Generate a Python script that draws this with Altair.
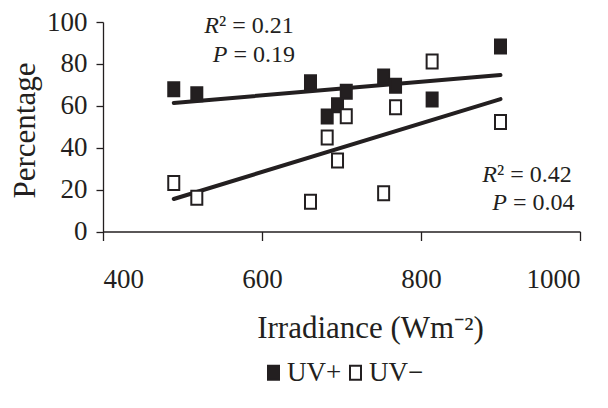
import altair as alt
import pandas as pd

# ---- data ----
irradiance = [489, 518, 661, 682, 695, 706, 753, 768, 814, 900]
uv_plus = [67.9, 65.5, 71.3, 54.9, 60.3, 66.7, 74.0, 69.6, 63.0, 88.3]
uv_minus = [23.2, 16.1, 14.2, 44.9, 33.9, 55.0, 18.3, 59.3, 81.2, 52.3]
series_names = ["UV+", "UV\u2212"]
x_ticks = [400, 600, 800, 1000]
y_ticks = [0, 20, 40, 60, 80, 100]

# annotation texts
ann_italic = ["R", "P", "R", "P"]
ann_rest = ["\u00b2 = 0.21", "= 0.19", "\u00b2 = 0.42", "= 0.04"]
# layout positions (pixels inside plot area)
ann_x_italic = [116.0, 124.5, 394.0, 404.0]
ann_x_rest = [116.0, 130.5, 394.0, 410.0]
ann_y = [11, 40, 160, 188]

FONT = "Liberation Serif"
INK = "#231f20"
RECT = "M-0.786,-1H0.786V1H-0.786Z"

rows = []
for name, vals in zip(series_names, [uv_plus, uv_minus]):
    for xv, yv in zip(irradiance, vals):
        rows.append({"irr": xv, "pct": yv, "series": name})
df = pd.DataFrame(rows)

xscale = alt.Scale(domain=[400, 1000], nice=False)
yscale = alt.Scale(domain=[0, 100], nice=False)

base = alt.Chart(df)

points = base.mark_point(
    shape=RECT, size=196, filled=True, stroke=INK, strokeWidth=2, opacity=1
).encode(
    x=alt.X("irr:Q", scale=xscale,
            axis=alt.Axis(values=x_ticks, format="d", title="Irradiance (Wm\u207b\u00b2)",
                          titleX=267, titleY=106, titleBaseline="alphabetic",
                          titleAlign="center", titleAnchor="start",
                          tickSize=9, labelPadding=26)),
    y=alt.Y("pct:Q", scale=yscale,
            axis=alt.Axis(values=y_ticks, title="Percentage",
                          titleX=-78, titleY=108, titleAngle=-90,
                          titleBaseline="middle", titleAlign="center",
                          titleAnchor="start",
                          tickSize=7, labelPadding=9)),
    fill=alt.Fill("series:N",
                  scale=alt.Scale(domain=series_names, range=[INK, "white"]),
                  legend=alt.Legend(title=None, orient="none", direction="horizontal",
                                    legendX=157, legendY=337,
                                    symbolType=RECT, symbolSize=196,
                                    symbolStrokeColor=INK, symbolStrokeWidth=2,
                                    labelFont=FONT, labelFontSize=27,
                                    labelColor=INK, labelOffset=0,
                                    columnPadding=0, symbolOffset=0)),
)

lines = base.transform_regression(
    "irr", "pct", groupby=["series"]
).mark_line(color=INK, strokeWidth=4, strokeCap="round").encode(
    x=alt.X("irr:Q", scale=xscale),
    y=alt.Y("pct:Q", scale=yscale),
    detail="series:N",
)

ann = pd.DataFrame({
    "it": ann_italic, "rest": ann_rest,
    "xi": ann_x_italic, "xr": ann_x_rest, "y": ann_y,
})

italic_layers = []
rest_layers = []
for i in range(len(ann)):
    one = alt.Chart(ann.iloc[[i]])
    italic_layers.append(
        one.mark_text(font=FONT, fontSize=24, fontStyle="italic", align="right",
                      baseline="alphabetic", color=INK)
        .encode(text="it:N", x=alt.value(ann_x_italic[i]), y=alt.value(ann_y[i]))
    )
    rest_layers.append(
        one.mark_text(font=FONT, fontSize=24, align="left",
                      baseline="alphabetic", color=INK)
        .encode(text="rest:N", x=alt.value(ann_x_rest[i]), y=alt.value(ann_y[i]))
    )

chart = alt.layer(lines, points, *italic_layers, *rest_layers).properties(
    width=477, height=209.5,
    autosize=alt.AutoSizeParams(type="none"),
    padding={"left": 103, "top": 22, "right": 28, "bottom": 176},
    background="white",
).configure_view(stroke=None).configure_axis(
    grid=False,
    domainColor=INK, domainWidth=1.3,
    tickColor=INK, tickWidth=1.3,
    labelFont=FONT, labelFontSize=27, labelColor=INK,
    titleFont=FONT, titleFontSize=31, titleColor=INK, titleFontWeight="normal",
)

chart.save("out.html", embed_options={"renderer": "svg", "actions": False})
